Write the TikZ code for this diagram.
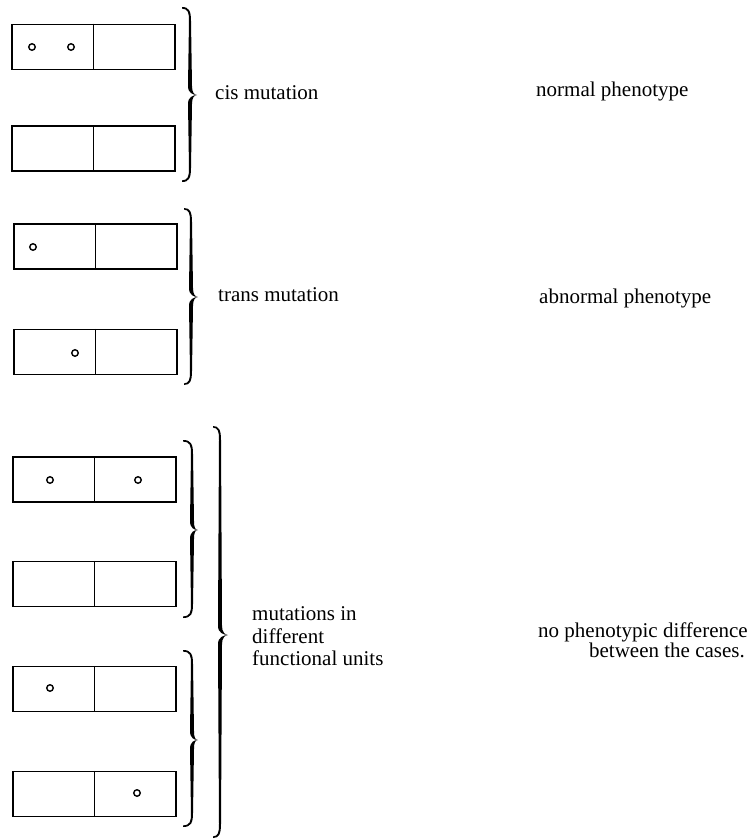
\documentclass[tikz,border=0pt]{standalone}
\usepackage{fontspec}
\setmainfont{Liberation Serif}
\begin{document}
% calligraphic right brace: spine x, top y, tip y, bottom y, hook offset, tip offset
\newcommand\calbrace[6]{%
  \fill ({#1-#5},#2) .. controls ({#1-1},#2) and ({#1+1},{#2+4}) .. ({#1+1},{#2+14})
    -- ({#1+2},{#3-9}) .. controls ({#1+2},{#3-3}) and ({#1+#6-3},#3) .. ({#1+#6},#3)
    .. controls ({#1+#6-3},#3) and ({#1+2},{#3+3}) .. ({#1+2},{#3+9})
    -- ({#1+1},{#4-14}) .. controls ({#1+1},{#4-4}) and ({#1-1},#4) .. ({#1-#5},#4)
    -- ({#1-#5},{#4-1.6}) .. controls ({#1-2},{#4-2}) and ({#1-1},{#4-5}) .. ({#1-1},{#4-14})
    -- ({#1-2},{#3+9}) .. controls ({#1-2},{#3+2}) and ({#1+#6-4},#3) .. ({#1+#6},#3)
    .. controls ({#1+#6-4},#3) and ({#1-2},{#3-2}) .. ({#1-2},{#3-9})
    -- ({#1-1},{#2+14}) .. controls ({#1-1},{#2+5}) and ({#1-2},{#2+2}) .. ({#1-#5},{#2+1.6})
    -- cycle;}
\begin{tikzpicture}[x=1pt,y=-1pt,
  gene/.style={draw, line width=1.5pt, rectangle, inner sep=0pt,
    minimum width=163pt, minimum height=45pt},
  mut/.style={draw, circle, line width=1.4pt, inner sep=0pt, minimum size=6.5pt},
  lbl/.style={inner sep=0pt, font=\fontsize{21}{24}\selectfont}]
\useasboundingbox (0,0) rectangle (751,840);

% chromosome pairs: each bar is two functional units
\node[gene] (b1) at (93.5,47) {};
\node[gene] (b2) at (93.5,148.5) {};
\node[gene] (b3) at (95.5,246.5) {};
\node[gene] (b4) at (95.5,352) {};
\node[gene] (b5) at (94.5,479.5) {};
\node[gene] (b6) at (94.5,584) {};
\node[gene] (b7) at (94.5,689) {};
\node[gene] (b8) at (94.5,794) {};
\foreach \b in {b1,b2,b3,b4,b5,b6,b7,b8}
  \draw[line width=1.5pt] (\b.north) -- (\b.south);

% mutation sites
\node[mut] (m1) at (32,47) {};
\node[mut] (m2) at (71,47) {};
\node[mut] (m3) at (33,247) {};
\node[mut] (m4) at (75,353) {};
\node[mut] (m5) at (50,480) {};
\node[mut] (m6) at (138,480) {};
\node[mut] (m7) at (50,688) {};
\node[mut] (m8) at (137,793) {};

% braces
\calbrace{190}{7}{95}{182}{8}{7}
\calbrace{191}{208}{297}{385}{7}{7}
\calbrace{192}{440}{530}{618}{9}{6}
\calbrace{192}{650}{740}{827}{9}{6}
\calbrace{220}{426}{635}{838}{7}{8}

% labels
\node[lbl, anchor=base west] (cis) at (215,100) {cis mutation};
\node[lbl, anchor=base west] (trans) at (218,301) {trans mutation};
\node[lbl, anchor=base west] (mu1) at (252,620) {mutations in};
\node[lbl, anchor=base west] (mu2) at (252,643) {different};
\node[lbl, anchor=base west] (mu3) at (252,665) {functional units};

\node[lbl, anchor=base west] (norm) at (536,97) {normal phenotype};
\node[lbl, anchor=base west] (abn) at (539,303) {abnormal phenotype};
\node[lbl, anchor=base west] (nd1) at (538,637) {no phenotypic difference};
\node[lbl, anchor=base east] (nd2) at (745,657) {between the cases.};
\end{tikzpicture}
\end{document}
